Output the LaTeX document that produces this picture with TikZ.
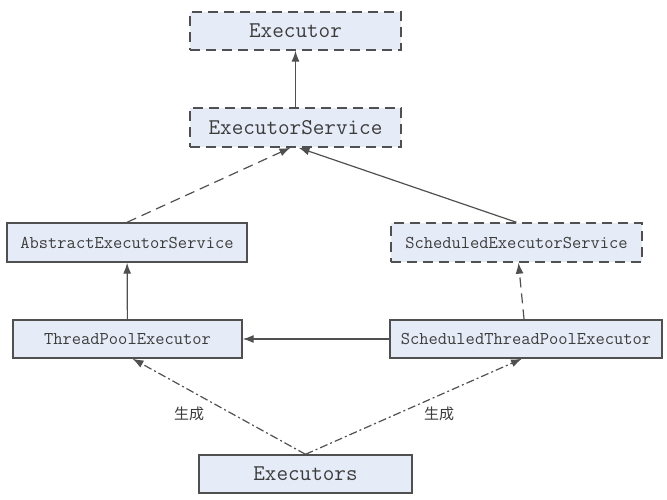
\documentclass[tikz,border=0pt]{standalone}
\usepackage{fontspec}
\newfontfamily\cjk{Noto Sans CJK SC}
\usepackage{tikz}
\usetikzlibrary{arrows,arrows.meta,shapes,positioning}
\usepackage{xcolor}
\definecolor{boxfill}{RGB}{230,236,247}
\definecolor{boxline}{RGB}{80,80,80}
\definecolor{txt}{RGB}{60,60,60}

\tikzset{
  clsbox/.style={draw=boxline, fill=boxfill, line width=1.4pt, text=txt, inner sep=0pt},
  ifacebox/.style={clsbox, dash pattern=on 10pt off 6pt},
  bigtxt/.style={font=\ttfamily\fontsize{22.5}{24}\selectfont},
  smalltxt/.style={font=\ttfamily\fontsize{18}{20}\selectfont},
  extends/.style={-{Latex[length=11pt,width=8pt]}, line width=1.2pt, draw=boxline},
  implements/.style={extends, dash pattern=on 10pt off 6pt},
  creates/.style={extends, dash pattern=on 8pt off 3pt on 2pt off 3pt}
}

\begin{document}
\begin{tikzpicture}[x=1pt, y=-1pt]
  \useasboundingbox (0,0) rectangle (667,499);
  % Interfaces
  \node[ifacebox, bigtxt, minimum width=211pt, minimum height=38pt] (exec) at (295.5,31) {Executor};
  \node[ifacebox, bigtxt, minimum width=211pt, minimum height=39pt] (svc) at (295.5,127.5) {ExecutorService};
  \node[ifacebox, smalltxt, minimum width=251pt, minimum height=39pt] (sched) at (516.5,242.5) {ScheduledExecutorService};

  % Classes
  \node[clsbox, smalltxt, minimum width=240pt, minimum height=39pt] (abs) at (127,242.5) {AbstractExecutorService};
  \node[clsbox, smalltxt, minimum width=229pt, minimum height=38pt] (tpe) at (127.5,339) {ThreadPoolExecutor};
  \node[clsbox, smalltxt, minimum width=272pt, minimum height=38pt] (stpe) at (526,339) {ScheduledThreadPoolExecutor};
  \node[clsbox, bigtxt, minimum width=213pt, minimum height=38pt] (exs) at (305.5,474) {Executors};

  % Connectors
  \draw[extends] (svc) -- (exec);
  \draw[implements] (abs.north) -- ([xshift=-5pt]svc.south);
  \draw[extends] (sched.north) -- ([xshift=3pt]svc.south);
  \draw[extends] (tpe) -- (abs);
  \draw[implements] (stpe) -- (sched);
  \draw[extends] (stpe) -- (tpe);
  \draw[creates] (exs.north) -- ([xshift=5pt]tpe.south);
  \draw[creates] (exs.north) -- ([xshift=-4pt]stpe.south);

  % Labels
  \node[text=txt, font=\cjk\fontsize{15}{16}\selectfont] (lblleft) at (189,414) {生成};
  \node[text=txt, font=\cjk\fontsize{15}{16}\selectfont] (lblright) at (439,414) {生成};
\end{tikzpicture}
\end{document}
